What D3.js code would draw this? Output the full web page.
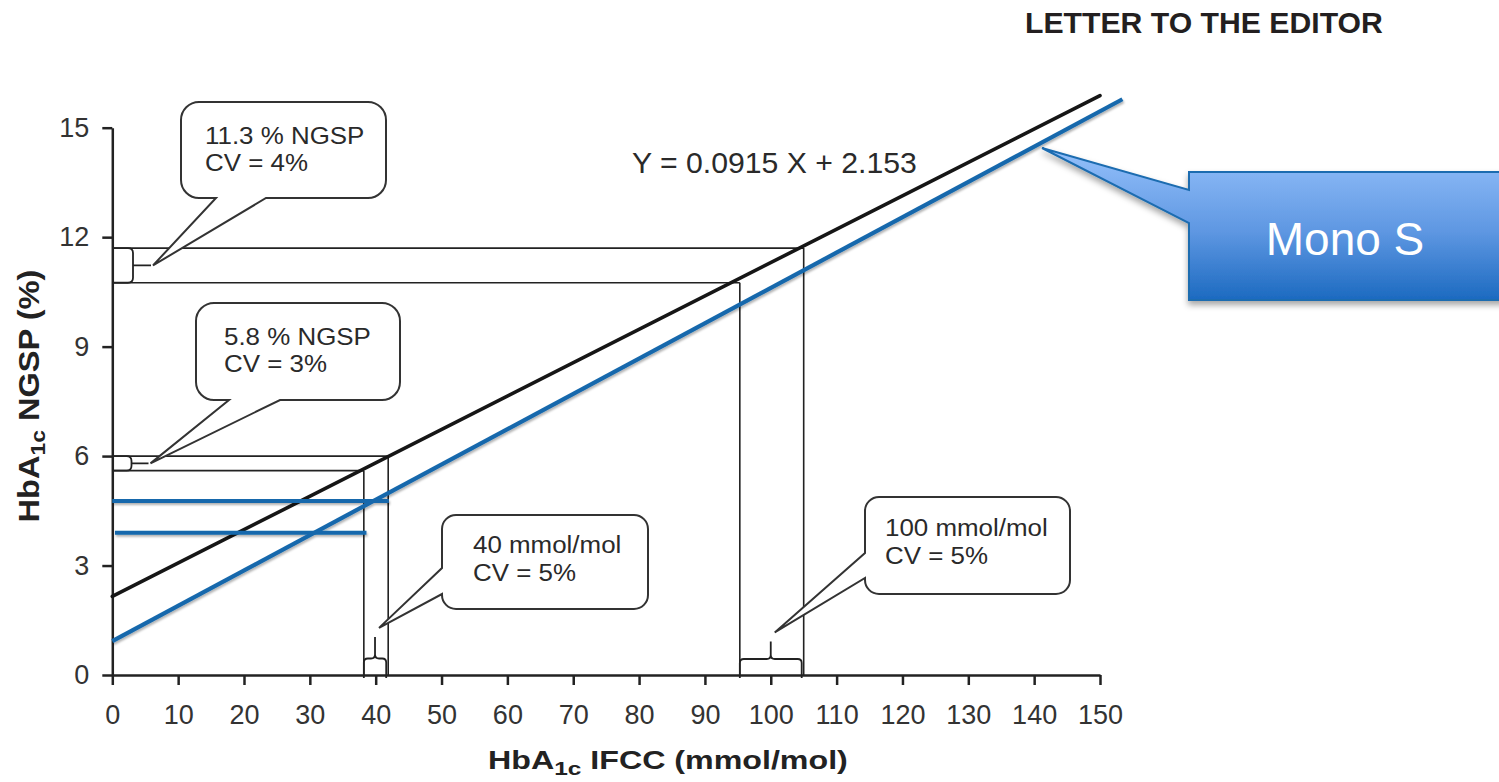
<!DOCTYPE html>
<meta charset="utf-8">
<style>
body { margin: 0; background: #fff; }
svg { font-family: "Liberation Sans", Arial, Helvetica, sans-serif; }
.axis path, .axis line { stroke: #222; stroke-width: 2.5px; }
.axis text { fill: #333; font-size: 27px; font-family: "Liberation Sans", Arial, sans-serif; }
.guide { fill: none; stroke: #222; stroke-width: 1.6px; }
.brace { fill: none; stroke: #222; stroke-width: 1.8px; }
.callout { fill: #fff; stroke: #333; stroke-width: 2px; }
.callout-text { font-size: 24px; fill: #2a2a2a; }
</style>
<body>
<script src="https://cdn.jsdelivr.net/npm/d3@7"></script>
<script>
// ---- data ----
var xTicks = [0, 10, 20, 30, 40, 50, 60, 70, 80, 90, 100, 110, 120, 130, 140, 150];
var yTicks = [0, 3, 6, 9, 12, 15];

// Y = 0.0915 X + 2.153
var fitLine = [{x: 0, y: 2.153}, {x: 150, y: 15.878}];
// Mono S line (blue)
var monoLine = [{x: 0, y: 0.93}, {x: 153.4, y: 15.78}];
// blue horizontal levels
var monoLevels = [{y: 4.77, x0: 0, x1: 42.0}, {y: 3.9, x0: 0.4, x1: 38.6}];

// NGSP bands: low/high % and matching IFCC values
var bands = [
  {lo: 10.75, hi: 11.7, xLo: 95.3, xHi: 105.0},
  {lo: 5.6, hi: 6.0, xLo: 38.2, xHi: 41.9}
];

var calloutLines = [
  ["11.3 % NGSP", "CV = 4%"],
  ["5.8 % NGSP", "CV = 3%"],
  ["40 mmol/mol", "CV = 5%"],
  ["100 mmol/mol", "CV = 5%"]
];

var width = 1499, height = 782;

var x = d3.scaleLinear().domain([0, 150]).range([112.3, 1100]);
var y = d3.scaleLinear().domain([0, 15]).range([675, 127.7]);

var svg = d3.select("body").append("svg")
  .attr("width", width)
  .attr("height", height);

var defs = svg.append("defs");
defs.append("filter").attr("id", "lineShadow")
  .attr("x", "-5%").attr("y", "-20%").attr("width", "110%").attr("height", "160%")
  .append("feDropShadow")
  .attr("dx", 1).attr("dy", 2).attr("stdDeviation", 1.2)
  .attr("flood-color", "#000").attr("flood-opacity", 0.3);
defs.append("filter").attr("id", "boxShadow")
  .attr("x", "-10%").attr("y", "-10%").attr("width", "130%").attr("height", "140%")
  .append("feDropShadow")
  .attr("dx", 0).attr("dy", 4).attr("stdDeviation", 3)
  .attr("flood-color", "#000").attr("flood-opacity", 0.35);
var grad = defs.append("linearGradient").attr("id", "monoGrad")
  .attr("x1", 0).attr("y1", 0).attr("x2", 0).attr("y2", 1);
grad.append("stop").attr("offset", "0%").attr("stop-color", "#95c1fb");
grad.append("stop").attr("offset", "55%").attr("stop-color", "#5e97e2");
grad.append("stop").attr("offset", "100%").attr("stop-color", "#1c6ac0");

// scale a text horizontally so it fills a given width
function fitWidth(t, tx, ty, target, rot) {
  var w = t.node().getComputedTextLength();
  t.attr("transform", "translate(" + tx + "," + ty + ")" + (rot ? " rotate(" + rot + ")" : "") +
    " scale(" + (target / w) + ",1)");
}

// header
var head = svg.append("text")
  .attr("font-weight", "bold")
  .attr("font-size", 30)
  .attr("fill", "#231f20")
  .text("LETTER TO THE EDITOR");
fitWidth(head, 1025, 33.3, 358);

// axes
svg.append("g")
  .attr("class", "axis")
  .attr("transform", "translate(0," + y(0) + ")")
  .call(d3.axisBottom(x).tickValues(xTicks).tickSize(10).tickSizeOuter(0).tickPadding(20));

svg.append("g")
  .attr("class", "axis")
  .attr("transform", "translate(" + x(0) + ",0)")
  .call(d3.axisLeft(y).tickValues(yTicks).tickSize(10).tickSizeOuter(0).tickPadding(13));

svg.selectAll(".axis text").attr("font-size", null);

// guide rectangles (thin black)
var guides = svg.append("g").attr("class", "guide");
bands.forEach(function(b) {
  guides.append("line").attr("x1", x(0)).attr("x2", x(b.xHi)).attr("y1", y(b.hi)).attr("y2", y(b.hi));
  guides.append("line").attr("x1", x(0)).attr("x2", x(b.xLo)).attr("y1", y(b.lo)).attr("y2", y(b.lo));
  guides.append("line").attr("x1", x(b.xHi)).attr("x2", x(b.xHi)).attr("y1", y(b.hi)).attr("y2", y(0));
  guides.append("line").attr("x1", x(b.xLo)).attr("x2", x(b.xLo)).attr("y1", y(b.lo)).attr("y2", y(0));
});

// braces on the axes
var yBraceX = [133, 131.5], yNub = [18, 17];
var xBraceY = [659, 658.5], xNub = [17.6, 21.6];
var tips = [];
bands.forEach(function(b, i) {
  var p = d3.path();
  var y1 = y(b.hi), y2 = y(b.lo), bx = yBraceX[i], m = (y1 + y2) / 2, r = Math.min(5, (y2 - y1) / 3);
  p.moveTo(x(0), y1); p.lineTo(bx - r, y1); p.quadraticCurveTo(bx, y1, bx, y1 + r);
  p.lineTo(bx, y2 - r); p.quadraticCurveTo(bx, y2, bx - r, y2); p.lineTo(x(0), y2);
  p.moveTo(bx, m); p.lineTo(bx + yNub[i], m);
  svg.append("path").attr("class", "brace").attr("d", p.toString());
  tips[i] = [bx + yNub[i] + 2, m];
});
bands.forEach(function(b, i) {
  var p = d3.path();
  var xa = x(b.xLo), xb = x(b.xHi) - 2, by = xBraceY[i], m = (xa + xb) / 2, r = 4, y0 = y(0) + 3;
  p.moveTo(xa, y0); p.lineTo(xa, by + r); p.quadraticCurveTo(xa, by, xa + r, by);
  p.lineTo(m - r, by); p.quadraticCurveTo(m, by, m, by - r); p.lineTo(m, by - xNub[i]);
  p.moveTo(m, by - r); p.quadraticCurveTo(m, by, m + r, by);
  p.lineTo(xb - r, by); p.quadraticCurveTo(xb, by, xb, by + r); p.lineTo(xb, y0);
  svg.append("path").attr("class", "brace").attr("d", p.toString());
  tips[2 + (1 - i)] = [m + 4, by - xNub[i] - 9];
});

// regression line
var line = d3.line().x(function(d) { return x(d.x); }).y(function(d) { return y(d.y); });
svg.append("path")
  .datum(fitLine)
  .attr("d", line)
  .attr("fill", "none")
  .attr("stroke", "#161616")
  .attr("stroke-width", 3.6)
  .attr("stroke-linecap", "round");

// blue Mono S lines
var blue = svg.append("g").attr("filter", "url(#lineShadow)");
blue.selectAll("line.level")
  .data(monoLevels)
  .enter().append("line")
  .attr("class", "level")
  .attr("x1", function(d) { return x(d.x0); })
  .attr("x2", function(d) { return x(d.x1); })
  .attr("y1", function(d) { return y(d.y); })
  .attr("y2", function(d) { return y(d.y); })
  .attr("stroke", "#1568ac")
  .attr("stroke-width", 4);
blue.append("path")
  .datum(monoLine)
  .attr("d", line)
  .attr("fill", "none")
  .attr("stroke", "#1568ac")
  .attr("stroke-width", 4.2);

// equation
var eq = svg.append("text")
  .attr("font-size", 30)
  .attr("fill", "#2a2a2a")
  .text("Y = 0.0915 X + 2.153");
fitWidth(eq, 632, 173.3, 285);

// callout bubbles
function bubble(b, tip) {
  var p = d3.path(), x0 = b.x, y0 = b.y, x1 = b.x + b.w, y1 = b.y + b.h, r = b.r;
  p.moveTo(x0 + r, y0);
  p.lineTo(x1 - r, y0); if (r) p.arcTo(x1, y0, x1, y0 + r, r);
  p.lineTo(x1, y1 - r); if (r) p.arcTo(x1, y1, x1 - r, y1, r);
  if (b.side == "bottom") { p.lineTo(b.p1, y1); p.lineTo(tip[0], tip[1]); p.lineTo(b.p0, y1); }
  p.lineTo(x0 + r, y1); if (r) p.arcTo(x0, y1, x0, y1 - r, r);
  if (b.side == "left") { p.lineTo(x0, b.p1); p.lineTo(tip[0], tip[1]); p.lineTo(x0, b.p0); }
  p.lineTo(x0, y0 + r); if (r) p.arcTo(x0, y0, x0 + r, y0, r);
  p.closePath();
  return p.toString();
}

var boxes = [
  {x: 181, y: 102, w: 205, h: 96, r: 18, side: "bottom", p0: 216, p1: 266, tx: 205, ty: [143.5, 171]},
  {x: 196, y: 303, w: 204, h: 97, r: 18, side: "bottom", p0: 229, p1: 280, tx: 224, ty: [344.5, 372]},
  {x: 442, y: 515, w: 206, h: 94, r: 14, side: "left", p0: 568, p1: 594, tx: 473, ty: [553, 580.5]},
  {x: 865, y: 497, w: 205, h: 97, r: 14, side: "left", p0: 553, p1: 578, tx: 885, ty: [536, 564]}
];

boxes.forEach(function(b, i) {
  svg.append("path").attr("class", "callout").attr("d", bubble(b, tips[i]));
  calloutLines[i].forEach(function(s, j) {
    svg.append("text")
      .attr("class", "callout-text")
      .attr("transform", "translate(" + b.tx + "," + b.ty[j] + ") scale(1.08,1)")
      .text(s);
  });
});

// Mono S label box
var monoBox = {x: 1189, y: 172, w: 340, h: 128, r: 0, side: "left", p0: 190, p1: 223};
svg.append("path")
  .attr("d", bubble(monoBox, [1042, 148]))
  .attr("fill", "url(#monoGrad)")
  .attr("stroke", "#1c6cb0")
  .attr("stroke-width", 2)
  .attr("filter", "url(#boxShadow)");
svg.append("text")
  .attr("x", 1345)
  .attr("y", 255)
  .attr("text-anchor", "middle")
  .attr("font-size", 46)
  .attr("fill", "#fff")
  .text("Mono S");

// axis titles
var xt = svg.append("text")
  .attr("font-weight", "bold")
  .attr("font-size", 25)
  .attr("fill", "#222");
xt.append("tspan").text("HbA");
xt.append("tspan").attr("font-size", 19).attr("dy", 6).text("1c");
xt.append("tspan").attr("dy", -6).text(" IFCC (mmol/mol)");
fitWidth(xt, 488, 769.3, 360);

var yt = svg.append("text")
  .attr("font-weight", "bold")
  .attr("font-size", 30)
  .attr("text-anchor", "middle")
  .attr("fill", "#222");
yt.append("tspan").text("HbA");
yt.append("tspan").attr("font-size", 21).attr("dy", 6).text("1c");
yt.append("tspan").attr("dy", -6).text(" NGSP (%)");
fitWidth(yt, 38.5, 396, 253, -90);
</script>
